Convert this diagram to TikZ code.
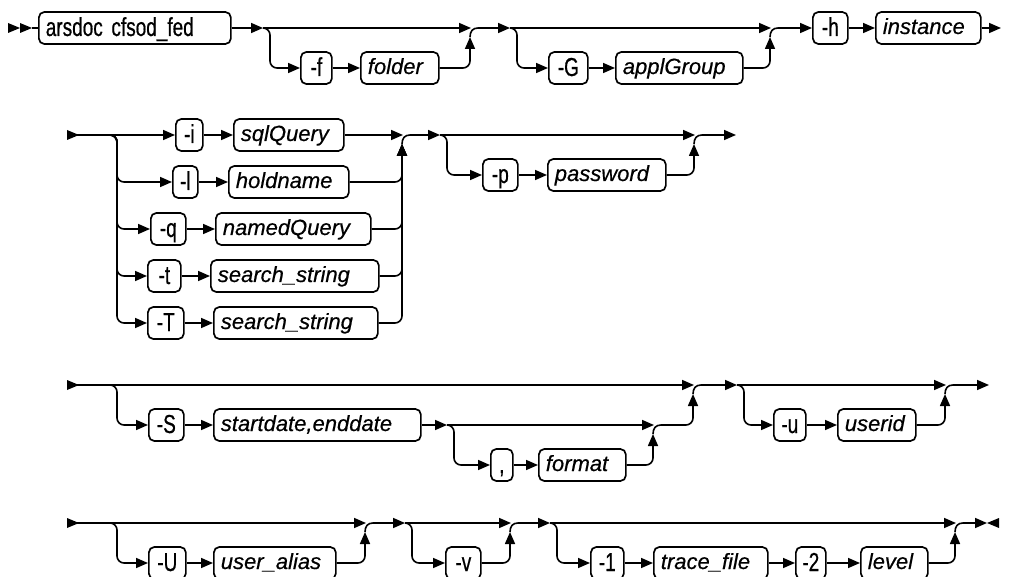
\documentclass[tikz,border=0pt]{standalone}
\usepackage{fontspec}
\setmainfont{Liberation Sans}
\newfontfamily\kwfamily[FakeStretch=0.73,FakeBold=0.6]{Liberation Sans}
\newfontfamily\vrfamily[FakeBold=0.5]{Liberation Sans Italic}
\usetikzlibrary{arrows.meta}
\newcommand\kwf{\kwfamily\fontsize{26}{30}\selectfont}
\newcommand\vrf{\vrfamily\fontsize{22}{26}\selectfont}
\tikzset{
  bx/.style={draw, line width=1.7pt, rounded corners=5.5pt, minimum height=32pt,
    inner ysep=0pt, anchor=west},
  kw/.style={bx, font=\kwf, inner xsep=0pt, text height=19pt, text depth=3pt},
  kwl/.style={bx, font=\kwf, inner xsep=7pt, align=left, text height=19pt, text depth=3pt},
  vr/.style={bx, font=\vrf, inner xsep=7pt, align=left, text height=16.5pt, text depth=4.5pt},
  conn/.style={line width=1.6pt},
  arr/.style={conn, -{Triangle[length=12pt,width=10pt]}},
}
% name, style, x1, x2, y, text  (left-aligned text)
\newcommand\bnode[6]{\pgfmathsetmacro\bw{#4-#3-14}\node[#2, text width=\bw pt] (#1) at (#3,#5) {#6};}
% name, x1, x2, y, text  (centred keyword)
\newcommand\knode[5]{\pgfmathsetmacro\bw{#3-#2}\node[kw, minimum width=\bw pt] (#1) at (#2,#4) {#5};}
% prefix, xstart, xvert, y0, (unused y1), first node, last node
\newcommand\optgroup[7]{%
  \coordinate (#1s) at (#2,#4);
  \coordinate (#1t) at (#3+1,#4);
  \coordinate (#1v) at (#3,#4+9);
  \coordinate (#1e) at (#3+8,#4);
  \draw[arr] (#1s) -- (#1t);
  \draw[arr, rounded corners=7pt] (#1s) -- ++(7,0) |- (#6);
  \draw[arr, rounded corners=7pt] (#7) -| (#1v);
  \draw[conn] (#1v) .. controls (#3,#4+3) and (#3+3,#4) .. (#1e);
}
\newcommand\startmark[1]{\fill (#1) ++(0,-5) -- ++(12,5) -- ++(-12,5) -- cycle;}
\begin{document}
\begin{tikzpicture}[x=1pt,y=-1pt]
\useasboundingbox (0,0) rectangle (1009,577);
\clip (0,0) rectangle (1009,577);

% ---------------- Row 1 ----------------
\coordinate (s1) at (8,28);
\coordinate (s1m) at (20,28);
\coordinate (s1b) at (32,28);
\startmark{s1}
\startmark{s1m}
\bnode{A}{kwl}{38}{230}{28}{arsdoc cfsod\_fed}
\draw[conn] (s1b) -- (A);
\knode{f}{300}{331}{68}{-f}
\bnode{folder}{vr}{360}{438}{68}{folder}
\draw[arr] (f) -- (folder);
\optgroup{g1}{263}{470}{28}{68}{f}{folder}
\draw[arr] (A) -- (g1s);
\knode{G}{548}{587}{68}{-G}
\bnode{applGroup}{vr}{615}{742}{68}{applGroup}
\draw[arr] (G) -- (applGroup);
\optgroup{g2}{510}{770}{28}{68}{G}{applGroup}
\draw[arr] (g1e) -- (g2s);
\knode{h}{812}{847}{28}{-h}
\bnode{instance}{vr}{875}{980}{28}{instance}
\coordinate (end1) at (1001,28);
\draw[arr] (g2e) -- (h);
\draw[arr] (h) -- (instance);
\draw[arr] (instance) -- (end1);

% ---------------- Row 2 ----------------
\coordinate (s2) at (67,135);
\startmark{s2}
\coordinate (c2b) at (110,135);
\knode{i}{175}{202}{135}{-i}
\bnode{sqlQuery}{vr}{233}{343}{135}{sqlQuery}
\knode{l}{172}{197}{182}{-l}
\bnode{holdname}{vr}{228}{348}{182}{holdname}
\knode{q}{150}{185}{229}{-q}
\bnode{namedQuery}{vr}{215}{370}{229}{namedQuery}
\knode{t}{147}{180}{276}{-t}
\bnode{sst}{vr}{210}{378}{276}{search\_string}
\knode{T}{147}{183}{323}{-T}
\bnode{sT}{vr}{213}{377}{323}{search\_string}
\draw[arr] (s2) -- (i);
\draw[arr] (i) -- (sqlQuery);
\draw[arr] (l) -- (holdname);
\draw[arr] (q) -- (namedQuery);
\draw[arr] (t) -- (sst);
\draw[arr] (T) -- (sT);
\coordinate (c2t) at (403,135);
\coordinate (c2v) at (402,144);
\coordinate (c2e) at (410,135);
\draw[arr] (sqlQuery) -- (c2t);
\foreach \k/\n in {l/holdname,q/namedQuery,t/sst,T/sT}{
  \draw[arr, rounded corners=7pt] (c2b) -- ++(7,0) |- (\k);
  \draw[arr, rounded corners=7pt] (\n) -| (c2v);
}
\draw[conn] (c2v) .. controls (402,138) and (405,135) .. (c2e);
\knode{p}{482}{517}{175}{-p}
\bnode{password}{vr}{547}{665}{175}{password}
\draw[arr] (p) -- (password);
\optgroup{g3}{440}{694}{135}{175}{p}{password}
\draw[arr] (c2e) -- (g3s);
\coordinate (end2) at (736,135);
\draw[arr] (g3e) -- (end2);

% ---------------- Row 3 ----------------
\coordinate (s3) at (67,385);
\startmark{s3}
\knode{S}{148}{183}{425}{-S}
\bnode{sdate}{vr}{213}{420}{425}{startdate,enddate}
\draw[arr] (S) -- (sdate);
\knode{comma}{490}{512}{465}{,}
\bnode{format}{vr}{538}{625}{465}{format}
\draw[arr] (comma) -- (format);
\optgroup{g5}{447}{653}{425}{465}{comma}{format}
\draw[arr] (sdate) -- (g5s);
\optgroup{g4}{110}{693}{385}{425}{S}{g5e}
\draw[conn] (s3) -- (g4s);
\knode{u}{773}{805}{425}{-u}
\bnode{userid}{vr}{837}{915}{425}{userid}
\draw[arr] (u) -- (userid);
\optgroup{g6}{737}{945}{385}{425}{u}{userid}
\draw[arr] (g4e) -- (g6s);
\coordinate (end3) at (989,385);
\draw[arr] (g6e) -- (end3);

% ---------------- Row 4 ----------------
\coordinate (s4) at (67,523);
\startmark{s4}
\knode{U}{148}{185}{563}{-U}
\bnode{ualias}{vr}{213}{335}{563}{user\_alias}
\draw[arr] (U) -- (ualias);
\optgroup{g7}{110}{365}{523}{563}{U}{ualias}
\draw[conn] (s4) -- (g7s);
\knode{v}{445}{480}{563}{-v}
\optgroup{g8}{405}{510}{523}{563}{v}{v}
\draw[arr] (g7e) -- (g8s);
\knode{o1}{590}{623}{563}{-1}
\bnode{tfile}{vr}{653}{767}{563}{trace\_file}
\knode{o2}{795}{825}{563}{-2}
\bnode{level}{vr}{860}{927}{563}{level}
\draw[arr] (o1) -- (tfile);
\draw[arr] (tfile) -- (o2);
\draw[arr] (o2) -- (level);
\optgroup{g9}{550}{955}{523}{563}{o1}{level}
\draw[arr] (g8e) -- (g9s);
\coordinate (end4) at (987,523);
\draw[arr] (g9e) -- (end4);
\fill (999,518) -- (end4) -- (999,528) -- cycle;
\end{tikzpicture}
\end{document}
